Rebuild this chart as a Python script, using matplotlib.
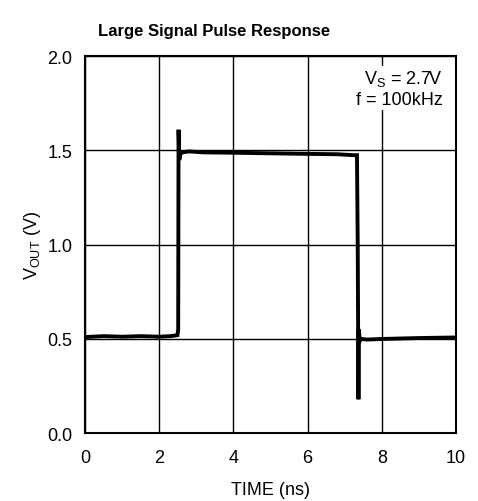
import matplotlib
matplotlib.use("Agg")
import matplotlib.pyplot as plt

plt.rcParams['font.family'] = ['Liberation Sans', 'DejaVu Sans']

# 示波器读数 (时间 ns, 输出电压 V)
time_ns = [0.0, 0.5, 1.0, 1.5, 2.0, 2.3, 2.49, 2.51, 2.52, 2.54, 2.57, 2.62, 2.8,
           3.2, 4.0, 5.0, 6.0, 6.8, 7.25, 7.33, 7.35, 7.37, 7.38, 7.41, 7.45,
           7.6, 8.0, 9.0, 10.0]
vout = [0.51, 0.515, 0.512, 0.515, 0.512, 0.515, 0.52, 0.55, 1.61, 1.45, 1.48, 1.49, 1.495,
        1.49, 1.488, 1.485, 1.482, 1.48, 1.475, 1.475, 1.00, 0.18, 0.55, 0.49, 0.50,
        0.497, 0.50, 0.505, 0.508]

x_ticks = [0, 2, 4, 6, 8, 10]
y_ticks = [0.0, 0.5, 1.0, 1.5, 2.0]

fig = plt.figure(figsize=(4.78, 5.02), dpi=100)
ax = fig.add_axes([0.178, 0.135, 0.776, 0.751])

ax.plot(time_ns, vout, color='black', lw=2.8, solid_joinstyle='miter')

ax.set_xlim(0, 10)
ax.set_ylim(0, 2)
ax.set_xticks(x_ticks)
ax.set_yticks(y_ticks)
ax.set_xticklabels([str(t) for t in x_ticks])
ax.set_yticklabels(['%.1f' % v for v in y_ticks])
ax.tick_params(length=0, labelsize=13, pad=9)
ax.tick_params(axis='x', pad=11)
ax.grid(True, color='black', lw=1)
for s in ax.spines.values():
    s.set_linewidth(1.5)

ax.set_xlabel('TIME (ns)', fontsize=13, labelpad=11)
ax.set_ylabel('V$_{\\mathregular{OUT}}$ (V)', fontsize=13, labelpad=3)

ax.text(9.65, 1.83, 'V$_{\\mathregular{S}}$ = 2.7V\nf = 100kHz', fontsize=13,
        ha='right', va='center', linespacing=1.25,
        bbox=dict(facecolor='white', edgecolor='none', pad=1))

fig.text(0.448, 0.938, 'Large Signal Pulse Response', fontsize=12,
         fontweight='bold', ha='center', va='center')

fig.savefig('out.png', dpi=100)
